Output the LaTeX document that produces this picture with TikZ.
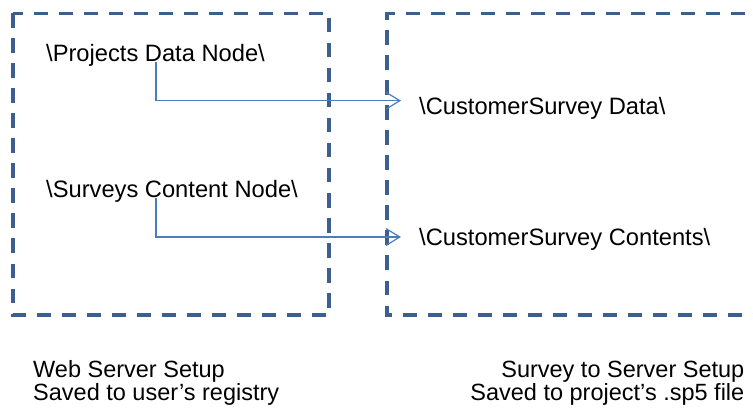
\documentclass[tikz,border=0pt]{standalone}
\usepackage{fontspec}
\setmainfont{Liberation Sans}
\usetikzlibrary{arrows.meta}
\definecolor{boxblue}{RGB}{59,95,143}
\definecolor{arrblue}{RGB}{74,126,187}
\begin{document}
\begin{tikzpicture}[x=1pt,y=-1pt,
  zone/.style={draw=boxblue,line width=3.3pt,dash pattern=on 14.5pt off 10.5pt},
  conn/.style={draw=arrblue,line width=1.2pt,-{Straight Barb[length=14pt,width=17pt,line width=1.2pt]}},
  lbl/.style={inner sep=0pt,font=\fontsize{23.7}{28}\selectfont},
  note/.style={inner sep=0pt,font=\fontsize{23.5}{26}\selectfont}]
\useasboundingbox (0,0) rectangle (753,409);
\fill[white] (0,0) rectangle (753,409);
% boxes
\draw[zone] (13,13.5) rectangle (329,315);
\draw[zone] (770,13.5) -- (387,13.5) -- (387,315) -- (770,315);
% labels
\node[lbl,anchor=base west] (pd) at (46,62) {\textbackslash Projects Data Node\textbackslash};
\node[lbl,anchor=base west] (sc) at (46,197) {\textbackslash Surveys Content Node\textbackslash};
\node[lbl,anchor=base west] (cd) at (419,115) {\textbackslash CustomerSurvey Data\textbackslash};
\node[lbl,anchor=base west] (cc) at (419,245) {\textbackslash CustomerSurvey Contents\textbackslash};
% connectors
\coordinate (s1) at (156,62);
\coordinate (t1) at (401,100.7);
\coordinate (s2) at (156,198);
\coordinate (t2) at (401,237);
\draw[conn] (s1) |- (t1);
\draw[conn] (s2) |- (t2);
% bottom notes
\node[note,anchor=base west] (ws) at (33,377) {Web Server Setup};
\node[note,anchor=base west] (ur) at (33,400.5) {Saved to user’s registry};
\node[note,anchor=base east] (ss) at (744.5,377) {Survey to Server Setup};
\node[note,anchor=base east] (pf) at (744.5,400.5) {Saved to project’s .sp5 file};
\end{tikzpicture}
\end{document}
